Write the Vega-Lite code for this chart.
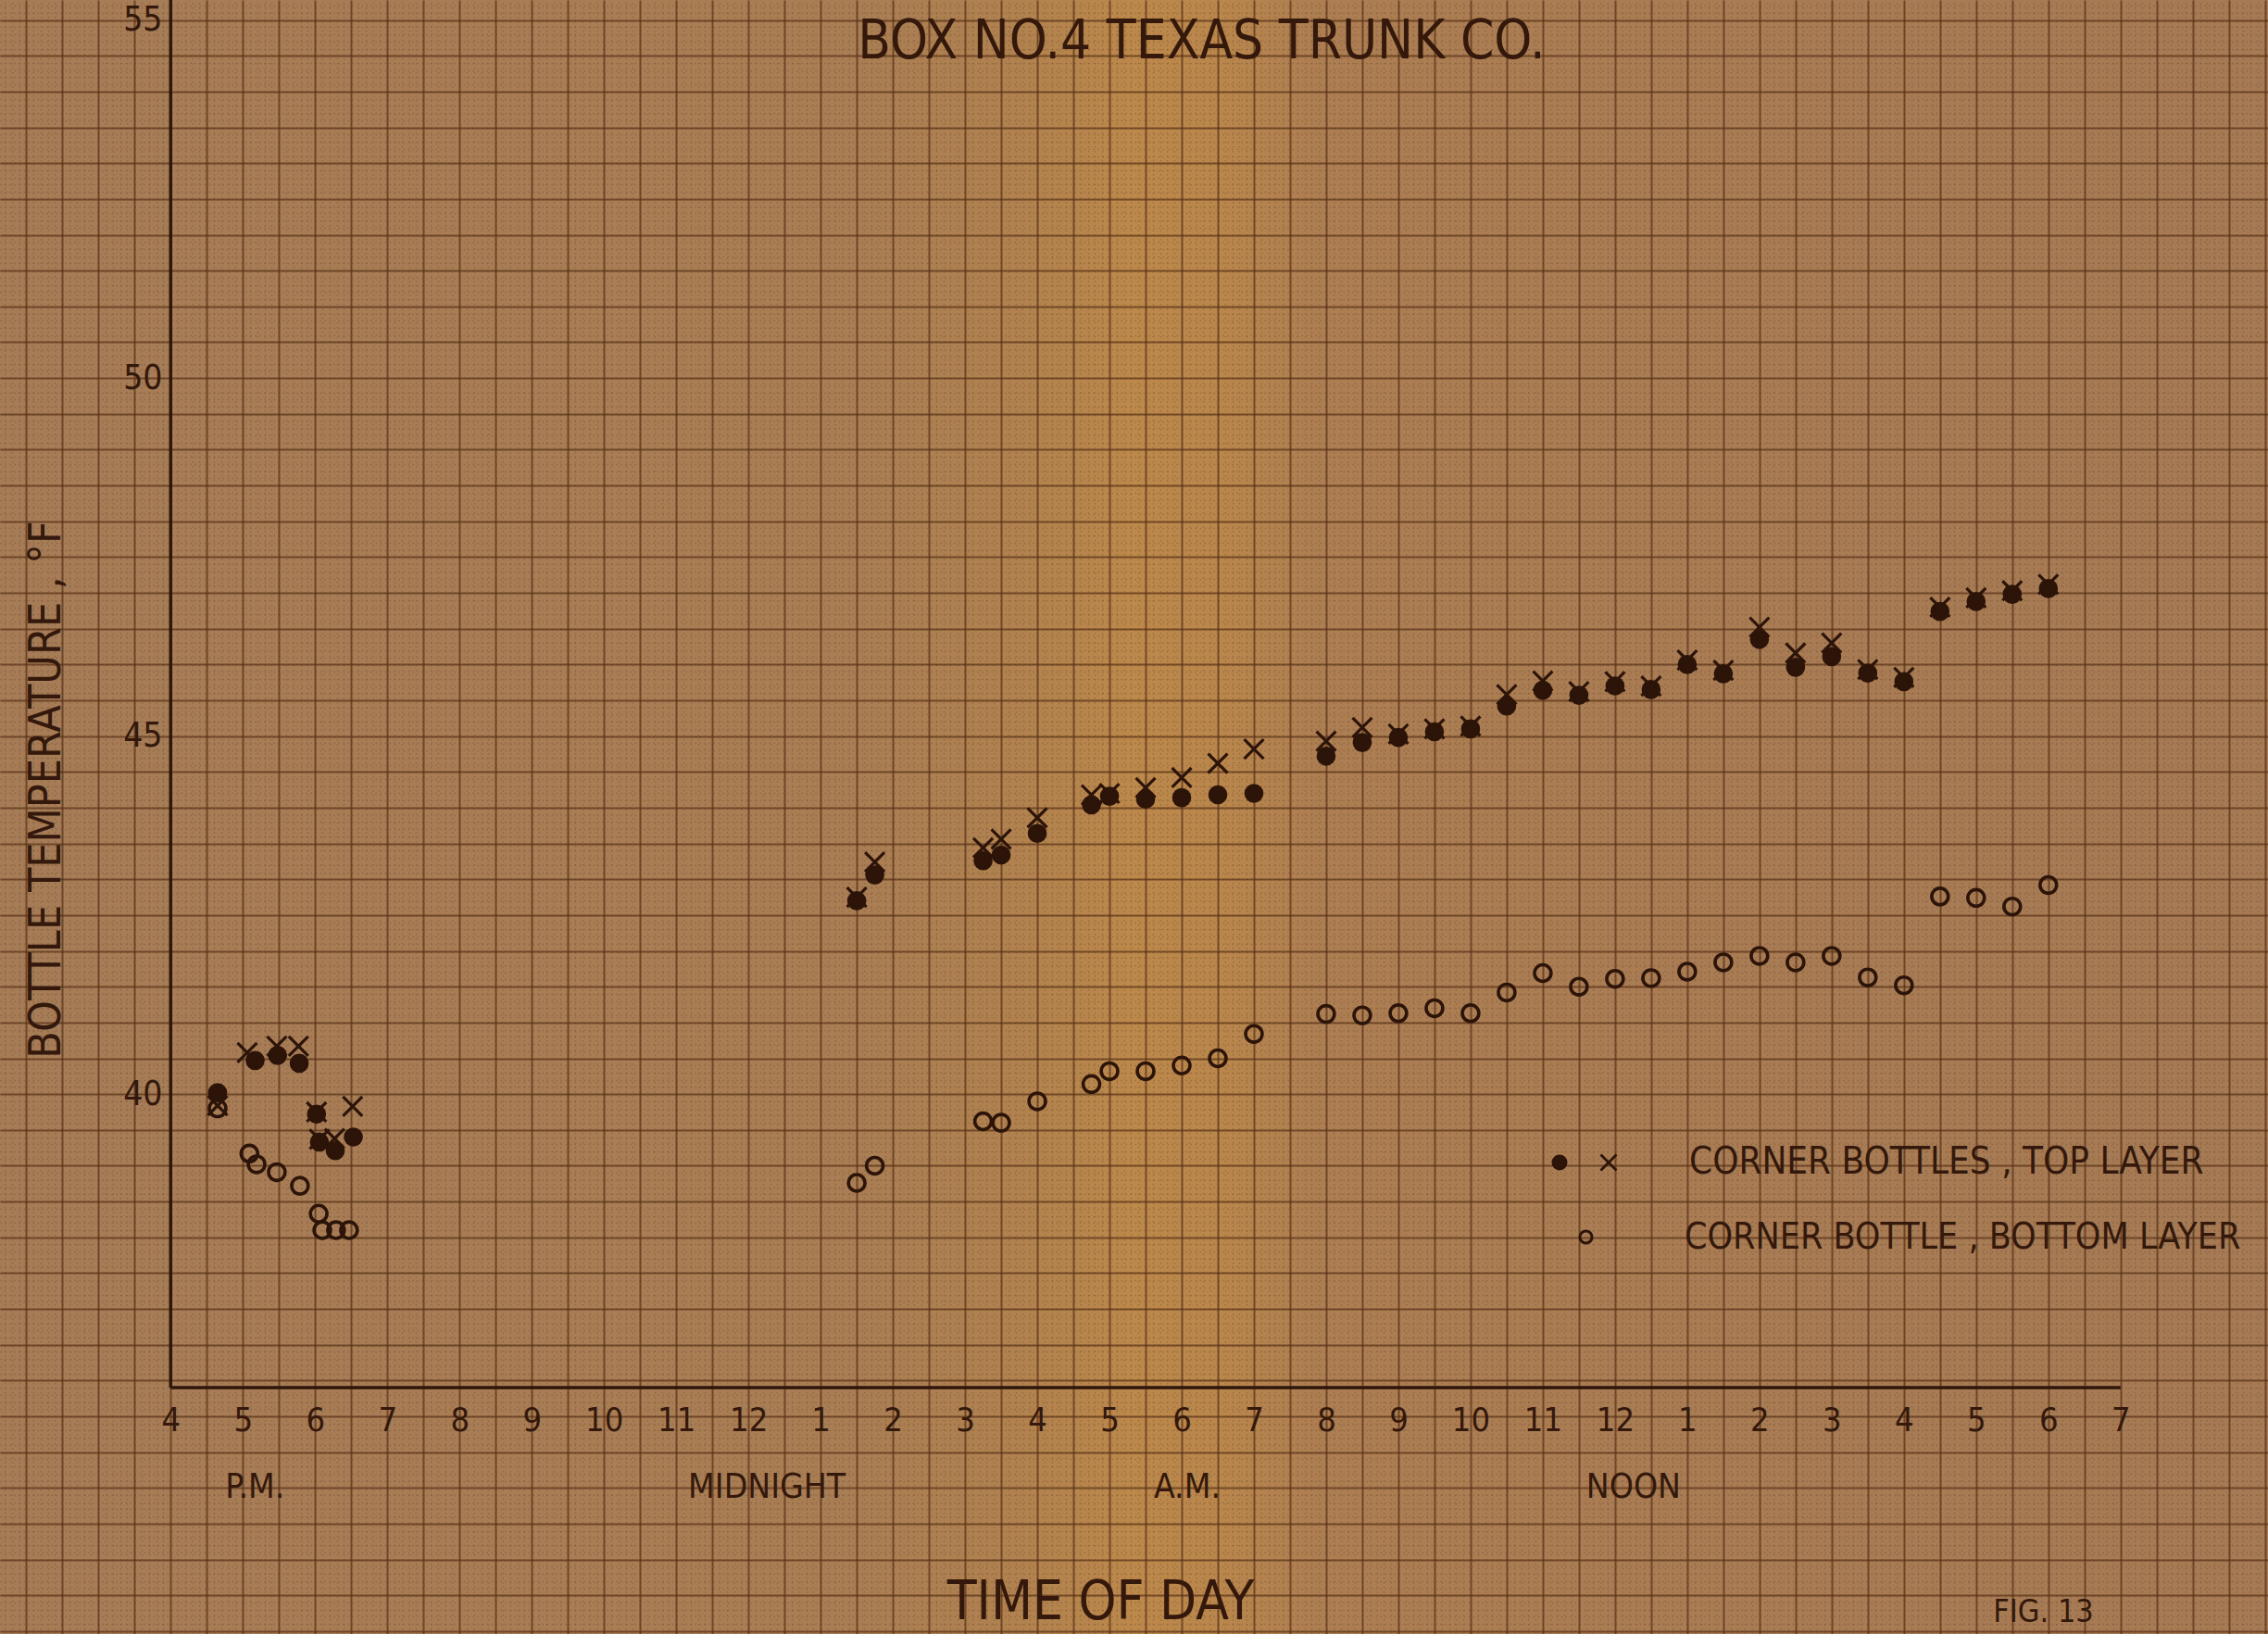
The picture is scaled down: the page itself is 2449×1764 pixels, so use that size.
{
  "$schema": "https://vega.github.io/schema/vega-lite/v6.json",
  "width": 2449,
  "height": 1764,
  "autosize": {"type": "none"},
  "padding": 0,
  "background": "#a67a51",
  "view": {
    "stroke": null,
    "fill": {
      "gradient": "linear", "x1": 0, "y1": 0, "x2": 1, "y2": 0,
      "stops": [
        {"offset": 0, "color": "#a67c57"},
        {"offset": 0.38, "color": "#aa7e54"},
        {"offset": 0.45, "color": "#b1824f"},
        {"offset": 0.5, "color": "#bc884b"},
        {"offset": 0.54, "color": "#b9864c"},
        {"offset": 0.58, "color": "#ad7e52"},
        {"offset": 0.75, "color": "#a97c54"},
        {"offset": 1, "color": "#a57a54"}
      ]
    }
  },
  "data": {
    "values": [
      {"t": 0.65, "temp": 40.02, "s": "top_dot"},
      {"t": 1.17, "temp": 40.47, "s": "top_dot"},
      {"t": 1.48, "temp": 40.54, "s": "top_dot"},
      {"t": 1.78, "temp": 40.43, "s": "top_dot"},
      {"t": 2.02, "temp": 39.72, "s": "top_dot"},
      {"t": 2.06, "temp": 39.33, "s": "top_dot"},
      {"t": 2.28, "temp": 39.21, "s": "top_dot"},
      {"t": 2.53, "temp": 39.40, "s": "top_dot"},
      {"t": 9.5, "temp": 42.70, "s": "top_dot"},
      {"t": 9.75, "temp": 43.06, "s": "top_dot"},
      {"t": 11.25, "temp": 43.26, "s": "top_dot"},
      {"t": 11.5, "temp": 43.34, "s": "top_dot"},
      {"t": 12.0, "temp": 43.64, "s": "top_dot"},
      {"t": 12.75, "temp": 44.04, "s": "top_dot"},
      {"t": 13.0, "temp": 44.16, "s": "top_dot"},
      {"t": 13.5, "temp": 44.12, "s": "top_dot"},
      {"t": 14.0, "temp": 44.14, "s": "top_dot"},
      {"t": 14.5, "temp": 44.18, "s": "top_dot"},
      {"t": 15.0, "temp": 44.20, "s": "top_dot"},
      {"t": 16.0, "temp": 44.72, "s": "top_dot"},
      {"t": 16.5, "temp": 44.91, "s": "top_dot"},
      {"t": 17.0, "temp": 44.98, "s": "top_dot"},
      {"t": 17.5, "temp": 45.06, "s": "top_dot"},
      {"t": 18.0, "temp": 45.10, "s": "top_dot"},
      {"t": 18.5, "temp": 45.42, "s": "top_dot"},
      {"t": 19.0, "temp": 45.64, "s": "top_dot"},
      {"t": 19.5, "temp": 45.57, "s": "top_dot"},
      {"t": 20.0, "temp": 45.70, "s": "top_dot"},
      {"t": 20.5, "temp": 45.65, "s": "top_dot"},
      {"t": 21.0, "temp": 46.00, "s": "top_dot"},
      {"t": 21.5, "temp": 45.87, "s": "top_dot"},
      {"t": 22.0, "temp": 46.35, "s": "top_dot"},
      {"t": 22.5, "temp": 45.96, "s": "top_dot"},
      {"t": 23.0, "temp": 46.11, "s": "top_dot"},
      {"t": 23.5, "temp": 45.88, "s": "top_dot"},
      {"t": 24.0, "temp": 45.76, "s": "top_dot"},
      {"t": 24.5, "temp": 46.74, "s": "top_dot"},
      {"t": 25.0, "temp": 46.88, "s": "top_dot"},
      {"t": 25.5, "temp": 46.98, "s": "top_dot"},
      {"t": 26.0, "temp": 47.06, "s": "top_dot"},

      {"t": 0.65, "temp": 39.84, "s": "top_cross"},
      {"t": 1.06, "temp": 40.58, "s": "top_cross"},
      {"t": 1.47, "temp": 40.67, "s": "top_cross"},
      {"t": 1.77, "temp": 40.67, "s": "top_cross"},
      {"t": 2.02, "temp": 39.75, "s": "top_cross"},
      {"t": 2.06, "temp": 39.37, "s": "top_cross"},
      {"t": 2.27, "temp": 39.38, "s": "top_cross"},
      {"t": 2.52, "temp": 39.83, "s": "top_cross"},
      {"t": 9.5, "temp": 42.75, "s": "top_cross"},
      {"t": 9.75, "temp": 43.24, "s": "top_cross"},
      {"t": 11.25, "temp": 43.44, "s": "top_cross"},
      {"t": 11.5, "temp": 43.56, "s": "top_cross"},
      {"t": 12.0, "temp": 43.86, "s": "top_cross"},
      {"t": 12.75, "temp": 44.18, "s": "top_cross"},
      {"t": 13.0, "temp": 44.20, "s": "top_cross"},
      {"t": 13.5, "temp": 44.28, "s": "top_cross"},
      {"t": 14.0, "temp": 44.42, "s": "top_cross"},
      {"t": 14.5, "temp": 44.62, "s": "top_cross"},
      {"t": 15.0, "temp": 44.82, "s": "top_cross"},
      {"t": 16.0, "temp": 44.93, "s": "top_cross"},
      {"t": 16.5, "temp": 45.12, "s": "top_cross"},
      {"t": 17.0, "temp": 45.03, "s": "top_cross"},
      {"t": 17.5, "temp": 45.10, "s": "top_cross"},
      {"t": 18.0, "temp": 45.14, "s": "top_cross"},
      {"t": 18.5, "temp": 45.58, "s": "top_cross"},
      {"t": 19.0, "temp": 45.77, "s": "top_cross"},
      {"t": 19.5, "temp": 45.62, "s": "top_cross"},
      {"t": 20.0, "temp": 45.76, "s": "top_cross"},
      {"t": 20.5, "temp": 45.70, "s": "top_cross"},
      {"t": 21.0, "temp": 46.06, "s": "top_cross"},
      {"t": 21.5, "temp": 45.92, "s": "top_cross"},
      {"t": 22.0, "temp": 46.52, "s": "top_cross"},
      {"t": 22.5, "temp": 46.16, "s": "top_cross"},
      {"t": 23.0, "temp": 46.30, "s": "top_cross"},
      {"t": 23.5, "temp": 45.93, "s": "top_cross"},
      {"t": 24.0, "temp": 45.82, "s": "top_cross"},
      {"t": 24.5, "temp": 46.80, "s": "top_cross"},
      {"t": 25.0, "temp": 46.93, "s": "top_cross"},
      {"t": 25.5, "temp": 47.03, "s": "top_cross"},
      {"t": 26.0, "temp": 47.12, "s": "top_cross"},

      {"t": 0.65, "temp": 39.80, "s": "bottom"},
      {"t": 1.09, "temp": 39.17, "s": "bottom"},
      {"t": 1.19, "temp": 39.02, "s": "bottom"},
      {"t": 1.47, "temp": 38.91, "s": "bottom"},
      {"t": 1.79, "temp": 38.72, "s": "bottom"},
      {"t": 2.05, "temp": 38.33, "s": "bottom"},
      {"t": 2.10, "temp": 38.10, "s": "bottom"},
      {"t": 2.29, "temp": 38.10, "s": "bottom"},
      {"t": 2.47, "temp": 38.10, "s": "bottom"},
      {"t": 9.5, "temp": 38.76, "s": "bottom"},
      {"t": 9.75, "temp": 39.00, "s": "bottom"},
      {"t": 11.25, "temp": 39.62, "s": "bottom"},
      {"t": 11.5, "temp": 39.60, "s": "bottom"},
      {"t": 12.0, "temp": 39.90, "s": "bottom"},
      {"t": 12.75, "temp": 40.14, "s": "bottom"},
      {"t": 13.0, "temp": 40.32, "s": "bottom"},
      {"t": 13.5, "temp": 40.32, "s": "bottom"},
      {"t": 14.0, "temp": 40.40, "s": "bottom"},
      {"t": 14.5, "temp": 40.50, "s": "bottom"},
      {"t": 15.0, "temp": 40.84, "s": "bottom"},
      {"t": 16.0, "temp": 41.12, "s": "bottom"},
      {"t": 16.5, "temp": 41.10, "s": "bottom"},
      {"t": 17.0, "temp": 41.13, "s": "bottom"},
      {"t": 17.5, "temp": 41.20, "s": "bottom"},
      {"t": 18.0, "temp": 41.13, "s": "bottom"},
      {"t": 18.5, "temp": 41.42, "s": "bottom"},
      {"t": 19.0, "temp": 41.69, "s": "bottom"},
      {"t": 19.5, "temp": 41.50, "s": "bottom"},
      {"t": 20.0, "temp": 41.61, "s": "bottom"},
      {"t": 20.5, "temp": 41.62, "s": "bottom"},
      {"t": 21.0, "temp": 41.71, "s": "bottom"},
      {"t": 21.5, "temp": 41.84, "s": "bottom"},
      {"t": 22.0, "temp": 41.93, "s": "bottom"},
      {"t": 22.5, "temp": 41.84, "s": "bottom"},
      {"t": 23.0, "temp": 41.93, "s": "bottom"},
      {"t": 23.5, "temp": 41.63, "s": "bottom"},
      {"t": 24.0, "temp": 41.52, "s": "bottom"},
      {"t": 24.5, "temp": 42.76, "s": "bottom"},
      {"t": 25.0, "temp": 42.74, "s": "bottom"},
      {"t": 25.5, "temp": 42.62, "s": "bottom"},
      {"t": 26.0, "temp": 42.92, "s": "bottom"}
    ]
  },
  "layer": [
    {
      "data": {"values": [{}]},
      "mark": {"type": "rule", "color": "#2e160b", "strokeWidth": 3.5},
      "encoding": {
        "x": {
          "datum": 0, "type": "quantitative",
          "scale": {"domain": [-2.363, 29.042], "nice": false, "zero": false},
          "axis": {"orient": "top", "offset": 0, "grid": true, "tickCount": 314, "labels": false, "ticks": false, "domain": false,
                   "gridColor": "#5b3419", "gridOpacity": 0.3, "gridWidth": 1.4, "gridDash": [1.5, 3.5],
                   "title": "BOX NO.4  TEXAS TRUNK CO.", "titleX": 1297, "titleY": 62, "titleAngle": 0,
                   "titleAlign": "center", "titleBaseline": "alphabetic", "titleFontSize": 58}
        },
        "x2": {"datum": 27},
        "y": {
          "datum": 35.9, "type": "quantitative",
          "scale": {"domain": [32.46, 55.28], "nice": false, "zero": false},
          "axis": {"orient": "left", "offset": 0, "grid": true, "tickCount": 228, "labels": false, "ticks": false, "domain": false, "title": null,
                   "gridColor": "#5b3419", "gridOpacity": 0.3, "gridWidth": 1.4, "gridDash": [1.5, 3.5]}
        }
      }
    },
    {
      "data": {"values": [{}]},
      "mark": {"type": "rule", "color": "#2e160b", "strokeWidth": 3.5},
      "encoding": {
        "x": {
          "datum": 0, "type": "quantitative",
          "axis": {"orient": "bottom", "offset": 0, "grid": true, "tickCount": 63, "labels": false, "ticks": false, "domain": false, "title": null,
                   "gridColor": "#573116", "gridOpacity": 0.68, "gridWidth": 2}
        },
        "y": {
          "datum": 35.9, "type": "quantitative",
          "axis": {"orient": "left", "offset": 0, "grid": true, "tickCount": 46, "labels": false, "ticks": false, "domain": false, "title": null,
                   "gridColor": "#573116", "gridOpacity": 0.68, "gridWidth": 2}
        },
        "y2": {"datum": 55.28}
      }
    },
    {
      "transform": [{"filter": "datum.s == 'top_dot'"}],
      "mark": {"type": "point", "filled": true, "color": "#2c1409", "stroke": "#2c1409", "strokeWidth": 2.5, "size": 330, "opacity": 1},
      "encoding": {
        "x": {
          "field": "t", "type": "quantitative",
          "axis": {"orient": "bottom", "offset": -266, "values": [0,1,2,3,4,5,6,7,8,9,10,11,12,13,14,15,16,17,18,19,20,21,22,23,24,25,26,27],
                   "labelExpr": "((datum.value + 3) % 12) + 1", "grid": false, "ticks": false, "tickSize": 0, "domain": false,
                   "labelPadding": 35, "labelBaseline": "middle", "labelFontSize": 36, "labelOverlap": false, "labelFlush": false, "title": null}
        },
        "y": {
          "field": "temp", "type": "quantitative",
          "axis": {"orient": "left", "offset": -186, "values": [40, 45, 50, 55], "grid": false, "ticks": false, "tickSize": 0, "domain": false,
                   "labelPadding": 11, "labelFontSize": 37, "labelBaseline": "middle", "labelFlush": false, "labelOverlap": false,
                   "title": "BOTTLE TEMPERATURE , °F", "titleFontSize": 48, "titleX": -136, "titleY": 852, "titleAngle": -90,
                   "titleAlign": "center", "titleBaseline": "middle"}
        },
        "shape": {
          "field": "s", "type": "nominal",
          "scale": {"domain": ["top_dot"], "range": ["circle"]},
          "legend": {"orient": "none", "legendX": 1664, "legendY": 1235, "title": null,
                     "labelExpr": "''", "labelFontSize": 40, "symbolSize": 240, "padding": 0}
        }
      }
    },
    {
      "transform": [{"filter": "datum.s == 'top_cross'"}],
      "mark": {"type": "point", "filled": false, "color": "#2c1409", "strokeWidth": 3.2, "size": 260, "opacity": 1},
      "encoding": {
        "x": {"field": "t", "type": "quantitative", "axis": null},
        "y": {"field": "temp", "type": "quantitative", "axis": null},
        "shape": {
          "field": "s", "type": "nominal",
          "scale": {"domain": ["top_cross"], "range": ["M-1.3,-1.3L1.3,1.3M-1.3,1.3L1.3,-1.3"]},
          "legend": {"orient": "none", "legendX": 1717, "legendY": 1235, "title": null,
                     "labelExpr": "'CORNER BOTTLES , TOP LAYER'", "labelFontSize": 40, "labelOffset": 67,
                     "symbolSize": 170, "symbolStrokeWidth": 2.8, "padding": 0, "labelLimit": 900}
        }
      }
    },
    {
      "transform": [{"filter": "datum.s == 'bottom'"}],
      "mark": {"type": "point", "filled": false, "color": "#2c1409", "strokeWidth": 3.6, "size": 320, "opacity": 1},
      "encoding": {
        "x": {
          "field": "t", "type": "quantitative",
          "axis": {"orient": "bottom", "offset": -159, "values": [1.16, 8.25, 14.07, 20.25],
                   "labelExpr": "datum.value < 4 ? 'P.M.' : datum.value < 10 ? 'MIDNIGHT' : datum.value < 17 ? 'A.M.' : 'NOON'",
                   "grid": false, "ticks": false, "tickSize": 0, "domain": false, "labelPadding": 0, "labelBaseline": "middle",
                   "labelFontSize": 37, "labelOverlap": false, "labelFlush": false,
                   "title": "TIME OF DAY", "titleX": 1188, "titleY": 125, "titleFontSize": 58, "titleBaseline": "middle", "titleAlign": "center"}
        },
        "y": {
          "field": "temp", "type": "quantitative",
          "axis": {"orient": "right", "offset": 0, "labels": false, "ticks": false, "domain": false, "grid": false,
                   "title": "FIG. 13", "titleX": -243, "titleY": 1740, "titleAngle": 0, "titleBaseline": "middle", "titleAlign": "center", "titleFontSize": 34}
        },
        "shape": {
          "field": "s", "type": "nominal",
          "scale": {"domain": ["bottom"], "range": ["circle"]},
          "legend": {"orient": "none", "legendX": 1693, "legendY": 1316, "title": null,
                     "labelExpr": "'CORNER BOTTLE , BOTTOM LAYER'", "labelFontSize": 39, "labelOffset": 87,
                     "symbolSize": 170, "symbolStrokeWidth": 3, "padding": 0, "labelLimit": 900}
        }
      }
    }
  ],
  "resolve": {
    "axis": {"x": "independent", "y": "independent"},
    "scale": {"shape": "independent"},
    "legend": {"shape": "independent"}
  },
  "config": {
    "font": "Liberation Sans Narrow, DejaVu Sans Condensed, Roboto Condensed, DejaVu Sans, sans-serif",
    "axis": {
      "labelFont": "Liberation Sans Narrow, DejaVu Sans Condensed, Roboto Condensed, DejaVu Sans, sans-serif",
      "titleFont": "Liberation Sans Narrow, DejaVu Sans Condensed, Roboto Condensed, DejaVu Sans, sans-serif",
      "labelColor": "#33180b",
      "titleColor": "#33180b",
      "titleFontWeight": "normal"
    },
    "legend": {
      "labelFont": "Liberation Sans Narrow, DejaVu Sans Condensed, Roboto Condensed, DejaVu Sans, sans-serif",
      "labelColor": "#33180b"
    }
  }
}
